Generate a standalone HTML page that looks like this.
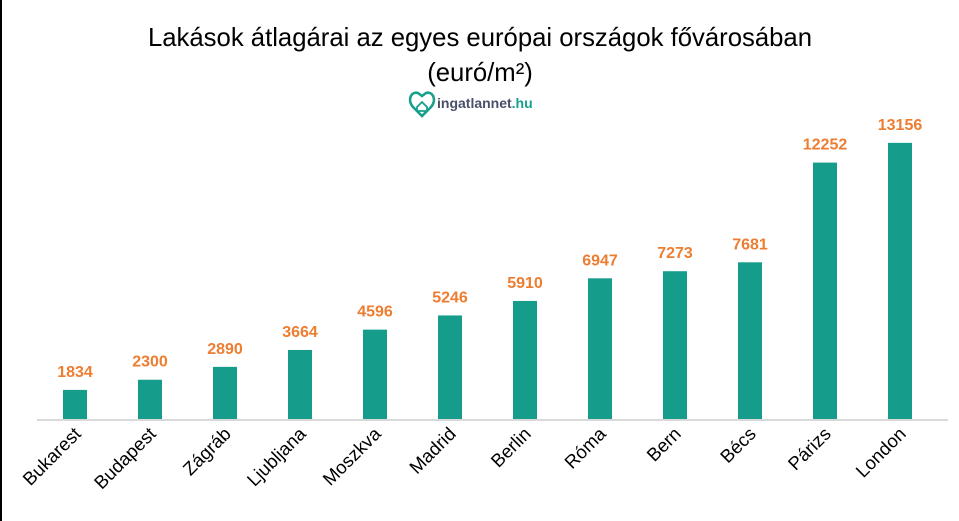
<!DOCTYPE html>
<html><head><meta charset="utf-8"><style>
html,body{margin:0;padding:0;background:#fff;}
svg{display:block;font-family:"Liberation Sans",sans-serif;}
</style></head><body>
<svg width="959" height="521" viewBox="0 0 959 521">
<rect x="0" y="0" width="959" height="521" fill="#fff"/>
<rect x="0" y="0" width="2" height="521" fill="#000"/>
<text x="480" y="46" font-size="25.7" text-anchor="middle" fill="#000">Lakások átlagárai az egyes európai országok fővárosában</text>
<text x="480" y="81" font-size="25.7" text-anchor="middle" fill="#000">(euró/m²)</text>
<g transform="translate(412,98)">
<path d="M1,9 C-5,2 -1,-7 6,-5 L10,-2 L14,-5 C21,-7 25,2 19,9 L10,18 Z" fill="none" stroke="#17a08c" stroke-width="2.6"/>
<path d="M5,9 L10,4 L15,9 L15,13 L5,13 Z" fill="none" stroke="#17a08c" stroke-width="1.8"/>
</g>
<text x="437" y="108" font-size="14" font-weight="bold" fill="#4a4f6a">ingatlannet<tspan fill="#17a08c">.hu</tspan></text>
<line x1="37" y1="420" x2="948" y2="420" stroke="#d9d9d9" stroke-width="2"/>
<g id="bars" font-size="16" font-weight="bold" fill="#ED7D31" text-anchor="middle"></g>
<g id="cats" font-size="18.5" fill="#000"></g>
</svg>
<script>
var d=[["Bukarest",1834],["Budapest",2300],["Zágráb",2890],["Ljubljana",3664],["Moszkva",4596],["Madrid",5246],["Berlin",5910],["Róma",6947],["Bern",7273],["Bécs",7681],["Párizs",12252],["London",13156]];
var ns="http://www.w3.org/2000/svg",b=document.getElementById("bars"),c=document.getElementById("cats");
d.forEach(function(e,i){var cx=75+75*i,h=(e[1]-500)*0.02182,top=419-h;
var r=document.createElementNS(ns,"rect");r.setAttribute("x",cx-12);r.setAttribute("y",top);r.setAttribute("width",24);r.setAttribute("height",h);r.setAttribute("fill","#159C8A");b.appendChild(r);
var t=document.createElementNS(ns,"text");t.setAttribute("x",cx);t.setAttribute("y",top-13);t.textContent=e[1];b.appendChild(t);
var l=document.createElementNS(ns,"text");l.setAttribute("text-anchor","end");l.setAttribute("transform","translate("+(cx+7)+",435) rotate(-45)");l.textContent=e[0];c.appendChild(l);});
</script>
</body></html>
